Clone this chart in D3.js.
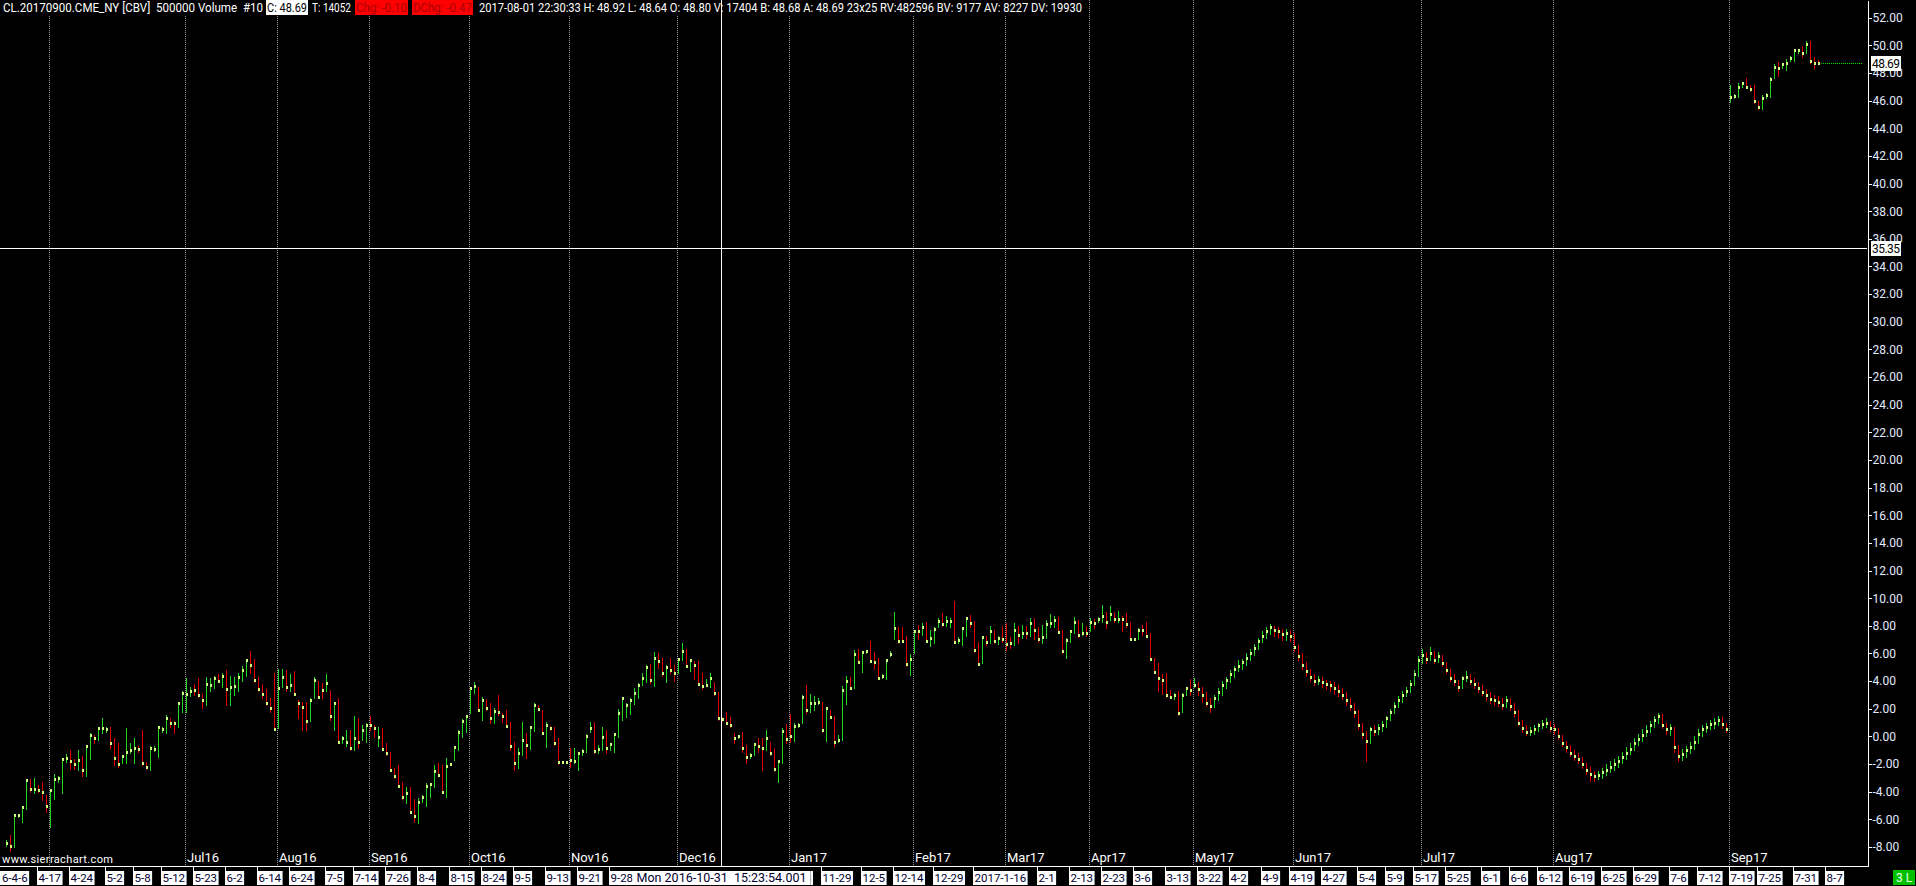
<!DOCTYPE html>
<html><head><meta charset="utf-8">
<script src="https://cdn.jsdelivr.net/npm/d3@7"></script>
<style>
html,body{margin:0;padding:0;background:#000;overflow:hidden;}
svg{display:block;}
text{font-family:Roboto,"Noto Sans","DejaVu Sans",sans-serif;}
</style></head><body>
<svg id="c" width="1916" height="886"></svg>
<script>
// ---------- DATA ----------
const highs=[
-7.49,-7.13,-5.65,-5.61,-5.08,-3.10,-3.10,-3.03,-3.51,-3.29,
-4.23,-3.82,-2.74,-2.86,-1.53,-1.26,-0.97,-1.65,-0.97,-1.41,
-0.61,0.23,0.11,0.66,1.36,0.71,0.71,-0.13,-0.49,-1.34,
0.59,-0.49,-0.13,-0.73,0.47,-1.82,-0.73,-0.73,0.76,0.71,
1.56,1.32,1.08,2.52,3.25,4.20,3.60,3.80,4.20,3.10,
4.30,4.20,4.40,4.50,4.60,4.80,4.40,4.30,4.60,5.10,
5.60,6.20,5.60,4.30,3.80,3.40,2.80,4.60,4.90,4.90,
4.80,4.50,4.70,2.64,2.52,2.52,2.76,4.30,4.00,3.85,
4.50,3.37,2.52,2.76,0.00,0.47,0.47,1.44,1.32,0.83,
0.95,1.44,0.83,0.71,0.59,-0.49,-1.14,-2.30,-2.06,-3.27,
-3.63,-3.63,-4.55,-4.43,-4.23,-3.39,-3.39,-2.06,-1.94,-2.06,
-1.58,-1.90,-0.69,0.47,1.24,1.56,3.60,3.90,3.60,2.88,
2.69,2.40,2.04,3.00,1.68,1.92,1.07,-0.37,-0.86,1.07,
0.23,0.71,2.40,2.28,1.92,1.07,0.76,0.66,-0.13,-1.80,
-1.80,-0.86,-0.86,-1.17,-0.93,0.18,1.07,1.07,-0.62,0.66,
0.47,-0.50,0.23,1.96,2.88,2.45,2.76,3.53,3.85,4.57,
5.17,5.25,6.09,6.02,5.66,5.17,5.66,5.17,5.66,6.74,
6.31,5.58,5.42,5.42,4.57,4.14,4.57,3.90,3.24,1.40,
1.80,1.43,0.28,0.11,0.35,-0.62,-1.22,-0.50,-0.13,-0.13,
0.47,-0.37,-0.86,-1.70,0.59,0.90,1.63,0.95,0.95,3.00,
3.72,3.07,2.93,2.76,2.52,2.11,1.92,1.48,0.11,3.65,
4.38,4.28,6.26,6.33,6.21,6.26,6.91,6.14,5.65,4.52,
5.58,6.21,9.03,7.95,7.95,7.27,5.97,7.71,8.07,8.24,
8.31,7.71,7.95,8.60,8.91,8.72,8.55,9.76,7.22,7.95,
8.67,8.79,8.38,6.86,7.27,7.27,8.00,7.71,7.27,8.00,
8.19,7.22,8.19,8.00,8.07,8.00,8.60,8.60,7.95,8.07,
8.43,8.86,8.72,8.67,7.71,7.10,7.71,8.67,8.43,8.24,
8.00,8.55,8.48,8.67,9.51,9.03,9.44,9.03,9.08,8.72,
8.91,8.31,7.10,7.83,8.07,8.31,7.46,5.65,5.29,4.52,
4.57,3.36,3.12,3.32,3.12,3.56,4.14,4.21,3.90,3.6,
3.2,2.8,3.0,3.5,4.0,4.3,4.8,5.1,5.5,5.6,
6.0,6.3,6.7,7.1,7.6,7.9,8.1,8.0,7.9,7.8,
7.8,7.7,7.5,6.6,6.0,5.4,4.9,4.5,4.4,4.3,
4.1,4.0,3.9,3.7,3.5,3.2,2.8,2.4,1.9,1.0,
0.4,0.7,0.8,0.9,1.1,1.5,2.0,2.5,2.9,3.3,
3.6,4.1,4.8,5.8,6.3,6.1,6.5,6.2,6.1,5.9,
5.4,4.9,4.5,4.1,4.4,4.7,4.5,4.2,3.9,3.7,
3.4,3.2,3.0,2.9,2.8,2.9,2.8,2.4,1.9,1.2,
0.8,0.7,0.8,1.0,1.2,1.3,1.1,0.9,0.6,0.1,
-0.3,-0.6,-1.0,-1.2,-1.5,-1.9,-2.2,-2.5,-2.5,-2.3,
-2.0,-1.8,-1.6,-1.4,-1.1,-0.8,-0.5,-0.1,0.2,0.5,
0.8,1.1,1.5,1.7,1.6,1.0,0.9,0.7,-0.6,-0.9,
-0.7,-0.4,0.0,0.5,0.8,1.0,1.2,1.3,1.5,1.4,
1.0,47.13,46.50,47.30,47.37,47.66,47.13,47.16,46.00,46.43,
46.53,47.73,48.63,48.82,48.75,49.03,49.20,49.73,49.76,49.95,
50.34,50.34,49.18,48.92];
const lows=[
-7.90,-8.26,-7.97,-5.80,-6.16,-5.27,-3.99,-4.11,-3.99,-4.59,
-5.44,-6.52,-4.54,-3.27,-4.11,-1.82,-2.37,-2.37,-2.42,-2.86,
-2.90,-1.65,-0.49,-0.25,0.23,0.35,-0.85,-2.06,-2.18,-1.94,
-1.94,-1.22,-1.94,-1.10,-2.06,-2.37,-2.42,-1.02,-1.46,0.35,
0.23,0.71,0.28,0.71,1.80,1.80,2.90,3.00,2.88,2.04,
2.28,3.25,3.50,3.90,3.60,2.30,2.30,3.00,3.30,4.00,
4.40,4.60,3.90,3.30,2.80,2.30,1.80,0.50,0.60,3.60,
3.30,3.30,3.00,1.32,0.47,0.47,1.08,2.76,2.76,2.76,
3.25,1.20,0.47,-0.37,-0.49,-0.73,-0.97,-0.97,-0.85,-0.25,
-0.37,0.47,-0.01,-0.73,-0.97,-1.34,-2.45,-3.00,-3.63,-4.55,
-4.84,-5.56,-6.16,-6.24,-4.71,-5.00,-4.35,-3.63,-2.90,-4.00,
-4.35,-2.10,-1.70,-0.98,-0.01,0.35,1.72,3.12,1.92,1.19,
1.92,1.00,1.00,1.55,1.07,0.71,-0.98,-2.42,-2.30,-1.34,
-1.58,-0.93,0.42,1.92,0.23,-0.74,0.47,-0.62,-1.99,-1.95,
-1.95,-2.18,-1.94,-2.42,-1.34,-1.10,0.35,-1.17,-1.22,-0.98,
-1.22,-0.98,-1.10,-0.01,1.19,1.43,1.63,2.33,2.76,3.73,
3.97,3.85,3.68,4.93,4.38,3.90,4.57,4.04,4.57,5.53,
5.05,4.76,4.14,3.80,3.41,3.65,3.60,3.00,1.19,1.10,
0.95,0.71,-0.50,-0.13,-1.10,-1.94,-1.58,-1.34,-1.10,-2.42,
-0.98,-1.34,-2.47,-3.27,-1.94,-0.45,-0.37,-0.30,0.66,0.95,
1.72,1.80,1.92,2.35,0.35,-0.30,1.31,-0.69,-0.37,-0.25,
2.35,3.41,3.53,5.29,4.69,6.02,5.49,4.86,4.21,4.21,
4.14,5.82,7.03,6.74,6.86,5.10,4.45,6.07,7.03,7.34,
6.86,6.55,6.79,7.95,8.00,8.00,7.95,6.74,6.74,6.62,
7.27,7.95,6.14,5.17,5.29,6.62,6.74,6.79,6.69,6.86,
6.26,6.38,6.62,6.74,7.10,7.10,7.27,7.03,6.86,6.79,
7.10,7.95,7.95,7.47,6.07,5.66,6.86,7.47,7.22,7.34,
7.27,7.59,7.83,8.31,8.31,7.83,8.43,8.31,8.31,7.66,
7.95,7.03,6.98,7.03,7.34,7.18,5.58,4.69,3.32,3.08,
2.83,2.76,2.69,1.56,1.80,3.00,3.00,3.60,3.00,2.5,
2.2,1.8,2.1,2.6,3.0,3.5,3.9,4.3,4.7,4.9,
5.2,5.5,5.9,6.3,6.8,7.1,7.4,7.3,7.2,7.0,
7.0,6.9,6.2,5.5,4.9,4.4,4.0,3.7,3.8,3.6,
3.4,3.3,3.1,2.9,2.7,2.3,1.9,1.4,0.5,-0.1,
-1.8,-0.5,0.1,0.2,0.4,0.7,1.2,1.7,2.1,2.5,
2.9,3.2,3.7,4.4,5.3,5.3,5.5,5.3,5.4,5.1,
4.6,4.0,3.7,3.3,3.5,4.0,3.8,3.5,3.2,3.0,
2.6,2.4,2.3,2.2,2.0,2.1,1.9,1.5,0.8,0.3,
0.1,0.1,0.2,0.4,0.6,0.7,0.4,0.2,-0.2,-0.7,
-1.1,-1.4,-1.7,-1.9,-2.3,-2.7,-3.2,-3.2,-3.1,-3.0,
-2.8,-2.6,-2.4,-2.2,-1.9,-1.6,-1.3,-1.0,-0.6,-0.3,
0.0,0.3,0.7,1.0,0.6,0.2,0.1,-1.1,-1.8,-1.7,
-1.5,-1.2,-0.9,-0.5,0.0,0.3,0.5,0.6,0.8,0.6,
0.3,45.93,46.22,46.29,47.01,46.89,46.72,45.85,45.42,45.37,
46.19,46.29,47.64,47.81,48.34,48.19,48.84,48.84,49.44,49.13,
49.42,48.75,48.34,48.64];
const closes=[
-7.68,-7.90,-5.70,-5.70,-5.12,-3.15,-3.82,-3.77,-3.87,-4.04,
-5.03,-3.89,-3.05,-2.98,-1.63,-1.55,-1.77,-1.99,-1.70,-2.42,
-0.73,0.11,-0.13,0.59,0.64,0.52,-0.49,-1.58,-2.01,-1.41,
-1.10,-0.98,-0.85,-0.93,-1.89,-2.23,-0.85,-0.93,0.71,0.52,
1.32,0.95,0.95,2.40,3.13,3.08,3.25,3.35,3.00,2.64,
3.80,3.73,4.20,4.00,4.40,3.40,3.60,3.65,4.30,4.80,
5.50,5.20,4.10,3.40,3.10,2.40,2.04,0.52,3.50,4.30,
3.60,3.70,3.10,2.40,2.16,1.08,2.64,4.09,2.88,3.37,
3.85,1.44,2.45,-0.37,-0.13,-0.37,-0.85,-0.13,-0.37,0.47,
0.83,0.80,0.59,-0.01,-0.88,-1.20,-2.42,-2.88,-3.56,-4.35,
-4.11,-5.44,-5.73,-4.76,-4.35,-3.56,-3.46,-2.50,-2.78,-3.99,
-2.11,-2.00,-0.78,0.35,1.15,1.48,3.49,3.65,1.92,2.64,
2.04,1.31,1.87,1.80,1.48,0.76,-0.69,-1.94,-1.22,-0.25,
-0.62,0.66,2.28,1.96,0.23,0.83,0.59,-0.50,-1.87,-1.87,
-1.87,-1.70,-1.75,-1.22,-1.03,0.06,0.59,-1.05,-0.93,-0.01,
-0.81,-0.57,0.16,1.72,2.76,2.28,2.64,3.12,3.73,4.21,
5.05,4.09,5.66,5.42,4.57,5.05,4.81,4.62,5.58,6.19,
5.10,5.53,5.17,3.80,3.65,3.73,4.21,3.12,1.31,1.26,
1.00,0.83,-0.13,0.04,-0.86,-1.51,-1.34,-0.57,-0.69,-0.86,
-0.13,-1.22,-2.38,-1.75,0.40,-0.20,0.05,0.77,0.83,2.88,
1.92,2.40,2.45,2.52,0.47,2.04,1.43,-0.37,-0.25,3.36,
4.04,3.48,5.97,5.41,6.14,6.21,5.49,5.41,4.21,4.38,
5.53,5.97,7.83,6.93,6.93,5.22,5.58,7.59,7.59,7.95,
6.93,7.10,7.75,8.38,8.14,8.38,8.33,6.86,6.98,7.83,
8.55,8.24,6.26,5.24,7.22,6.86,7.59,6.93,7.10,7.03,
6.69,6.74,7.71,7.34,7.47,7.47,8.19,7.71,7.03,7.22,
8.14,8.19,8.43,7.54,6.19,6.98,7.59,8.31,7.34,7.47,
7.47,8.31,8.19,8.48,8.72,8.31,8.86,8.48,8.48,8.48,
8.14,7.03,7.03,7.71,7.71,7.27,5.58,4.69,4.21,4.09,
3.00,2.83,3.00,1.72,3.00,3.48,3.36,3.72,3.41,3.0,
2.4,2.2,2.8,3.2,3.7,4.1,4.5,4.9,5.1,5.4,
5.7,6.0,6.4,6.9,7.3,7.6,7.9,7.7,7.6,7.4,
7.5,7.3,6.5,5.8,5.2,4.7,4.3,4.0,4.1,3.9,
3.8,3.7,3.5,3.3,3.0,2.6,2.2,1.8,0.8,0.2,
-0.3,0.5,0.4,0.6,0.8,1.3,1.8,2.2,2.6,3.0,
3.3,3.8,4.5,5.5,5.9,5.6,6.0,5.5,5.8,5.3,
4.8,4.2,4.0,3.6,4.2,4.3,4.0,3.8,3.5,3.2,
3.0,2.7,2.6,2.5,2.3,2.6,2.2,1.8,1.0,0.6,
0.3,0.4,0.5,0.8,0.9,1.0,0.6,0.5,0.0,-0.5,
-0.8,-1.2,-1.4,-1.6,-2.0,-2.4,-2.7,-2.9,-2.8,-2.6,
-2.4,-2.2,-2.0,-1.8,-1.5,-1.2,-0.9,-0.5,-0.2,0.1,
0.4,0.8,1.2,1.5,0.8,0.5,0.6,-0.8,-1.4,-1.3,
-1.0,-0.8,-0.4,0.2,0.5,0.7,0.9,1.0,1.2,0.9,
0.5,46.26,46.36,46.99,47.25,46.99,46.84,45.98,45.54,46.22,
46.41,47.57,48.43,48.36,48.65,48.72,49.08,49.64,49.64,49.44,
50.09,48.87,48.72,48.69];
const opens=[
-7.85,-7.68,-7.90,-5.75,-5.70,-5.12,-3.15,-3.82,-3.77,-3.87,
-4.04,-5.03,-3.89,-3.05,-2.98,-1.63,-1.55,-1.77,-1.99,-1.70,
-2.42,-0.73,0.11,-0.13,0.59,0.40,0.52,-0.49,-1.58,-2.01,
-1.41,-1.10,-0.98,-0.85,-0.93,-1.89,-2.23,-1.00,-0.93,0.40,
0.52,1.32,1.00,0.95,2.40,2.90,3.08,3.50,3.35,3.00,
2.64,3.60,3.73,4.20,4.00,4.40,3.40,3.60,3.65,4.30,
4.80,5.50,5.20,4.10,3.40,3.10,2.40,2.04,0.52,3.50,
4.30,3.60,3.70,3.10,2.40,2.16,1.08,2.64,4.09,3.60,
3.37,3.85,1.44,2.45,-0.37,-0.50,-0.37,-0.85,-0.13,-0.37,
0.47,0.83,0.80,-0.30,-0.01,-0.88,-1.20,-2.42,-2.88,-3.56,
-4.35,-4.11,-5.44,-5.73,-4.76,-4.35,-3.56,-3.46,-2.50,-2.78,
-3.99,-2.11,-2.00,-0.78,0.35,1.15,1.48,3.49,3.65,1.92,
2.64,2.04,1.31,1.87,1.80,1.48,0.76,-0.69,-1.94,-1.22,
-0.25,-0.62,0.66,2.28,1.96,0.23,0.83,0.59,-0.50,-1.80,
-1.80,-1.50,-1.87,-1.75,-1.22,-1.03,0.06,0.59,-1.05,-0.93,
-0.01,-0.81,-0.57,0.16,1.72,2.00,2.28,2.64,3.12,3.73,
4.21,5.05,4.09,5.66,5.42,4.57,5.05,4.81,4.62,5.58,
6.19,5.10,5.53,5.17,3.80,3.65,3.73,4.21,3.12,1.31,
1.26,1.00,0.83,-0.13,0.04,-0.86,-1.51,-1.34,-0.57,-0.69,
-0.86,-0.13,-1.22,-2.38,-1.75,0.40,0.30,0.05,0.77,0.83,
2.88,1.92,2.40,2.45,2.52,0.47,2.04,1.43,-0.37,-0.25,
3.36,4.04,3.48,5.97,5.41,6.14,6.21,5.49,5.41,4.21,
4.38,5.53,5.97,7.83,7.10,6.93,5.22,5.58,7.75,7.59,
7.95,6.93,7.10,7.75,8.38,8.14,8.20,8.33,6.86,6.98,
7.83,8.55,8.24,6.26,5.24,7.22,6.86,7.59,6.93,7.10,
7.03,6.90,6.74,7.71,7.34,7.60,7.47,8.19,7.71,7.03,
7.22,8.14,8.19,8.43,7.54,6.19,6.98,7.59,8.31,7.34,
7.60,7.47,8.31,8.19,8.48,8.72,8.31,8.86,8.40,8.60,
8.48,8.14,7.00,7.03,7.80,7.71,7.27,5.58,4.69,4.21,
4.09,3.00,2.83,3.00,1.72,3.00,3.48,3.36,3.72,3.41,
3.0,2.4,2.2,2.8,3.2,3.7,4.1,4.5,4.9,5.1,
5.4,5.7,6.0,6.4,6.9,7.3,7.6,7.9,7.7,7.6,
7.4,7.5,7.3,6.5,5.8,5.2,4.7,4.3,4.0,4.1,
3.9,3.8,3.7,3.5,3.3,3.0,2.6,2.2,1.8,0.8,
0.2,-0.3,0.5,0.4,0.6,0.8,1.3,1.8,2.2,2.6,
3.0,3.3,3.8,4.5,5.5,5.9,5.6,6.0,5.5,5.8,
5.3,4.8,4.2,4.0,3.6,4.2,4.3,4.0,3.8,3.5,
3.2,3.0,2.7,2.6,2.5,2.3,2.6,2.2,1.8,1.0,
0.6,0.3,0.4,0.5,0.8,0.9,1.0,0.6,0.5,0.0,
-0.5,-0.8,-1.2,-1.4,-1.6,-2.0,-2.4,-2.7,-2.9,-2.8,
-2.6,-2.4,-2.2,-2.0,-1.8,-1.5,-1.2,-0.9,-0.5,-0.2,
0.1,0.4,0.8,1.2,1.5,0.8,0.5,0.6,-0.8,-1.4,
-1.3,-1.0,-0.8,-0.4,0.2,0.5,0.7,0.9,1.0,1.2,
0.9,46.00,46.26,46.36,46.99,47.25,46.99,46.84,45.98,45.54,
46.22,46.41,47.57,48.43,48.36,48.65,48.72,49.08,49.55,49.64,
49.44,50.09,48.87,48.80];

const priceTicks=[-8,-6,-4,-2,0,2,4,6,8,10,12,14,16,18,20,22,24,26,28,30,32,34,36,38,40,42,44,46,48,50,52];
const monthLabels=["","Jul16","Aug16","Sep16","Oct16","Nov16","Dec16","Jan17","Feb17","Mar17","Apr17","May17","Jun17","Jul17","Aug17","Sep17"];
const monthBars=[11,45,68,91,116,141,168,196,227,250,271,297,322,354,387,431];
const dateLabels=["2016-4-6","4-17","4-24","5-2","5-8","5-12","5-23","6-2","6-14","6-24","7-5","7-14","7-26","8-4","8-15","8-24","9-5","9-13","9-21","9-28","11-18","11-29","12-5","12-14","12-29","2017-1-16","2-1","2-13","2-23","3-6","3-13","3-22","4-2","4-9","4-19","4-27","5-4","5-9","5-17","5-25","6-1","6-6","6-12","6-19","6-25","6-29","7-6","7-12","7-19","7-25","7-31","8-7"];
const dateBars=[-6,8,16,25,32,39,47,55,63,71,80,87,95,103,111,119,127,135,143,151,194,204,214,222,232,242,258,266,274,282,290,298,306,314,321,329,338,345,352,360,369,376,383,391,399,407,416,423,431,438,447,455];
const headerParts=[
 {t:"CL.20170900.CME_NY [CBV]  500000 Volume  #10",x:2,w:262,bg:null,fg:"#ffffff"},
 {t:"C: 48.69",x:266,w:42,bg:"#ffffff",fg:"#000000"},
 {t:"T: 14052",x:311,w:41,bg:null,fg:"#ffffff"},
 {t:"Chg: -0.10",x:355,w:53,bg:"#ff0000",fg:"#a80000"},
 {t:"DChg: -0.47",x:412,w:61,bg:"#ff0000",fg:"#a80000"},
 {t:"2017-08-01 22:30:33 H: 48.92 L: 48.64 O: 48.80 V: 17404 B: 48.68 A: 48.69 23x25 RV:482596 BV: 9177 AV: 8227 DV: 19930",x:478,w:605,bg:null,fg:"#ffffff"}
];
const crossPrice=35.35, crossBar=178.75, crossTime="Mon 2016-10-31  15:23:54.001";
const lastPrice=48.69;

// ---------- CHART ----------
const W=1916,H=886,plotB=866,axisX=1867;
const svg=d3.select("#c");
const x=d3.scaleLinear().domain([0,453]).range([6,1818]);
const y=d3.scaleLinear().domain([-9.376,53.277]).range([plotB,0]);
const px=i=>Math.round(x(i));

svg.append("rect").attr("width",W).attr("height",H).attr("fill","#000");

// month separators
const mg=svg.append("g").attr("shape-rendering","crispEdges");
mg.selectAll("line").data(monthBars).join("line")
  .attr("x1",d=>px(d)-0.5).attr("x2",d=>px(d)-0.5)
  .attr("y1",0).attr("y2",plotB)
  .attr("stroke","#9a9a9a").attr("stroke-dasharray","1,1");
mg.selectAll("text").data(monthBars).join("text")
  .attr("x",d=>px(d)+1).attr("y",862)
  .attr("fill","#ffffff").style("font-size","13px")
  .text((d,i)=>monthLabels[i]);

// bars
const data=closes.map((c,i)=>({i,o:opens[i],h:highs[i],l:lows[i],c}));
const bg=svg.append("g").attr("shape-rendering","crispEdges");
bg.selectAll("line").data(data).join("line")
  .attr("x1",d=>px(d.i)+0.5).attr("x2",d=>px(d.i)+0.5)
  .attr("y1",d=>Math.round(y(d.h))).attr("y2",d=>Math.round(y(d.l))+1)
  .attr("stroke",d=>d.c>=d.o?"#22d822":"#e40000");
bg.selectAll("rect").data(data).join("rect")
  .attr("x",d=>px(d.i)).attr("y",d=>Math.round(y(d.c))-1)
  .attr("width",2).attr("height",3).attr("fill","#ccff80");

// last price dotted line
svg.append("line").attr("x1",px(453)+3).attr("x2",1862)
  .attr("y1",Math.round(y(lastPrice))+0.5).attr("y2",Math.round(y(lastPrice))+0.5)
  .attr("stroke","#00e000").attr("stroke-dasharray","1,1").attr("shape-rendering","crispEdges");

// crosshair
const cx=Math.round(x(crossBar))+0.5, cy=Math.round(y(crossPrice))+0.5;
svg.append("line").attr("x1",0).attr("x2",axisX).attr("y1",cy).attr("y2",cy).attr("stroke","#fff").attr("shape-rendering","crispEdges");
svg.append("line").attr("x1",cx).attr("x2",cx).attr("y1",0).attr("y2",plotB).attr("stroke","#fff").attr("shape-rendering","crispEdges");

// right price axis
const yAxis=d3.axisRight(y).tickValues(priceTicks).tickFormat(d=>d.toFixed(2)).tickSize(4).tickSizeOuter(0).tickPadding(1);
const ga=svg.append("g").attr("transform",`translate(${axisX+0.5},0)`).attr("shape-rendering","crispEdges").call(yAxis);
ga.select(".domain").attr("stroke","#fff");
ga.selectAll(".tick line").attr("stroke","#fff");
ga.selectAll(".tick text").attr("fill","#e4ecff").style("font-size","12px").style("font-family","Roboto,sans-serif");

// price boxes
function priceBox(p,txt){
  const yy=Math.round(y(p));
  svg.append("rect").attr("x",1871).attr("y",yy-7).attr("width",30).attr("height",15).attr("fill","#fff");
  svg.append("text").attr("x",1872).attr("y",yy+4.5).attr("fill","#000").style("font-size","12px").attr("textLength",28).text(txt);
}
priceBox(lastPrice,lastPrice.toFixed(2));
priceBox(crossPrice,crossPrice.toFixed(2));

// bottom axis line
svg.append("line").attr("x1",0).attr("x2",axisX+1).attr("y1",plotB+0.5).attr("y2",plotB+0.5).attr("stroke","#fff").attr("shape-rendering","crispEdges");

// crosshair time box geometry (computed first so the hidden label can be clipped)
const tmp=svg.append("text").style("font-size","12.5px").style("white-space","pre").text(crossTime);
const timeW=tmp.node().getComputedTextLength(); tmp.remove();
const timeL=cx-timeW/2-4, timeR=cx+timeW/2+4;
svg.append("clipPath").attr("id","dclip").append("rect").attr("x",timeR).attr("y",860).attr("width",W).attr("height",30);

// date labels
const dg=svg.append("g");
dateBars.forEach((b,i)=>{
  const bx=px(b)-1;
  const hidden=bx<timeR && bx>timeL;
  const g=dg.append("g");
  if(hidden) g.attr("clip-path","url(#dclip)");
  const r=g.append("rect").attr("x",bx).attr("y",871).attr("height",14).attr("fill","#fff");
  const t=g.append("text").attr("x",bx+1.5).attr("y",882).attr("fill","#000030").style("font-size","11.5px").text(dateLabels[i]);
  r.attr("width",t.node().getComputedTextLength()+3);
  g.append("line").attr("x1",bx+0.5).attr("x2",bx+0.5).attr("y1",plotB).attr("y2",871).attr("stroke","#fff").attr("shape-rendering","crispEdges");
});
// crosshair time box
svg.append("rect").attr("x",timeL).attr("y",871).attr("width",timeR-timeL).attr("height",14).attr("fill","#fff");
svg.append("text").attr("x",cx-timeW/2).attr("y",882).attr("fill","#000030").style("font-size","12.5px").style("white-space","pre").text(crossTime);

// status box
svg.append("rect").attr("x",1893).attr("y",870).attr("width",22).attr("height",15).attr("fill","#00c000");
svg.append("text").attr("x",1896).attr("y",882).attr("fill","#e8ffe8").style("font-size","12px").style("white-space","pre").text("3 L");

// watermark
svg.append("text").attr("x",2).attr("y",863).attr("fill","#fff").style("font-size","11px").attr("textLength",111).text("www.sierrachart.com");

// header
const hg=svg.append("g");
hg.append("rect").attr("x",0).attr("y",0).attr("width",1085).attr("height",15).attr("fill","#000");
headerParts.forEach(p=>{
  if(p.bg) hg.append("rect").attr("x",p.x).attr("y",0).attr("width",p.w).attr("height",15).attr("fill",p.bg);
  hg.append("text").attr("x",p.x+1).attr("y",12).attr("fill",p.fg).style("font-size","13px").style("white-space","pre")
    .attr("textLength",p.w-2).attr("lengthAdjust","spacingAndGlyphs").text(p.t);
});
// crosshair over header
svg.append("line").attr("x1",cx).attr("x2",cx).attr("y1",0).attr("y2",15).attr("stroke","#fff").attr("shape-rendering","crispEdges");
</script>
</body></html>
